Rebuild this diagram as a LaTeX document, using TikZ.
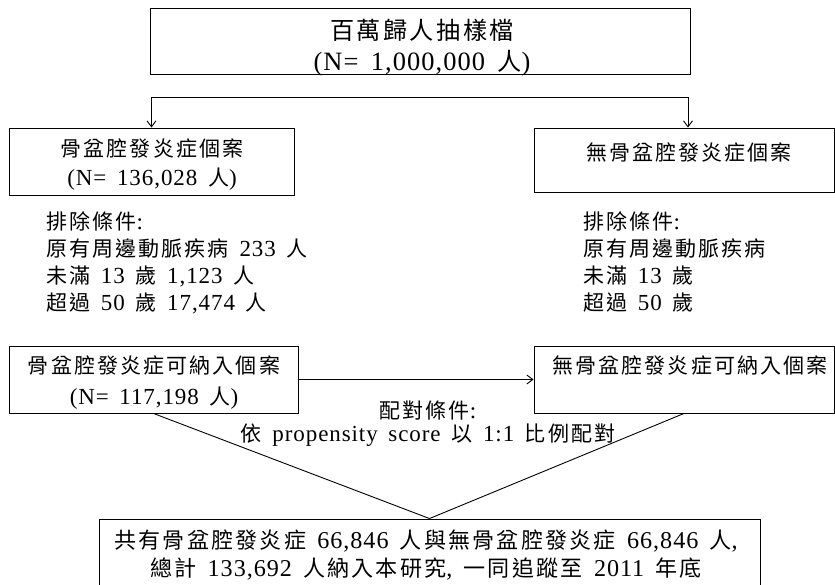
\documentclass[tikz,border=0pt]{standalone}
\usepackage{fontspec}
\setmainfont{Liberation Serif}[Scale=1.15, LetterSpace=4, WordSpace=1.6]
\newfontfamily\cjkfont{Noto Sans CJK TC}[Scale=1.05, LetterSpace=10]
\newcommand\zh[1]{{\cjkfont #1}}
\usetikzlibrary{arrows.meta}
\begin{document}
\begin{tikzpicture}[x=1pt,y=-1pt,
  box/.style={draw, line width=0.9pt, inner sep=0pt},
  txt/.style={inner sep=0pt, align=center},
  ltxt/.style={inner sep=0pt, align=left},
  line/.style={line width=0.9pt},
  tip/.tip={Straight Barb[length=6pt,width=9pt]},
  arr/.style={line, -tip},
  every node/.style={font=\fontsize{20}{29}\selectfont}]
\useasboundingbox (0,0) rectangle (835,585);

% top
\node[box, minimum width=540pt, minimum height=66pt] (top) at (420,41) {};
\node[txt, font=\fontsize{23}{31}\selectfont] (toptext) at (422,48)
  {\zh{百萬歸人抽樣檔}\\(N= 1,000,000 \zh{人})};

% second row
\node[box, minimum width=285pt, minimum height=67pt] (left) at (151.5,161.5) {};
\node[txt] (lefttext) at (152,164.5) {\zh{骨盆腔發炎症個案}\\(N= 136,028 \zh{人})};
\node[box, minimum width=300pt, minimum height=64pt] (right) at (684,160) {};
\node[txt] (righttext) at (689,152) {\zh{無骨盆腔發炎症個案}};

\coordinate (split) at (688,97);
\draw[line, tip-tip] (left.north) |- (split) -- (split |- right.north);

% exclusion criteria
\node[ltxt, anchor=north west, font=\fontsize{20}{26.7}\selectfont] (exl) at (46,212)
  {\zh{排除條件}:\\\zh{原有周邊動脈疾病} 233 \zh{人}\\\zh{未滿} 13 \zh{歲} 1,123 \zh{人}\\\zh{超過} 50 \zh{歲} 17,474 \zh{人}};
\node[ltxt, anchor=north west, font=\fontsize{20}{26.7}\selectfont] (exr) at (583,212)
  {\zh{排除條件}:\\\zh{原有周邊動脈疾病}\\\zh{未滿} 13 \zh{歲}\\\zh{超過} 50 \zh{歲}};

% third row
\node[box, minimum width=289pt, minimum height=67pt] (bl) at (153.5,379.5) {};
\node[txt, font=\fontsize{20}{31}\selectfont] (bltext) at (154,382.5)
  {\zh{骨盆腔發炎症可納入個案}\\(N= 117,198 \zh{人})};
\node[box, minimum width=300pt, minimum height=67pt] (br) at (684,379.5) {};
\node[txt] (brtext) at (690,365) {\zh{無骨盆腔發炎症可納入個案}};

\draw[arr] (bl.east) -- (br.west);

\node[inner sep=0pt] (m1) at (428,411) {\zh{配對條件}:};
\node[inner sep=0pt] (m2) at (428,435) {\zh{依} propensity score \zh{以} 1:1 \zh{比例配對}};

% bottom
\node[box, minimum width=661pt, minimum height=71pt] (bot) at (429.5,554.5) {};
\node[txt, font=\fontsize{21}{28.5}\selectfont] (bottext) at (426,555)
  {\zh{共有骨盆腔發炎症} 66,846 \zh{人與無骨盆腔發炎症} 66,846 \zh{人}, \\\zh{總計} 133,692 \zh{人納入本研究}, \zh{一同追蹤至} 2011 \zh{年底}};

\draw[line] (bl.south) -- (bot.north);
\draw[line] (br.south) -- (bot.north);
\end{tikzpicture}
\end{document}
